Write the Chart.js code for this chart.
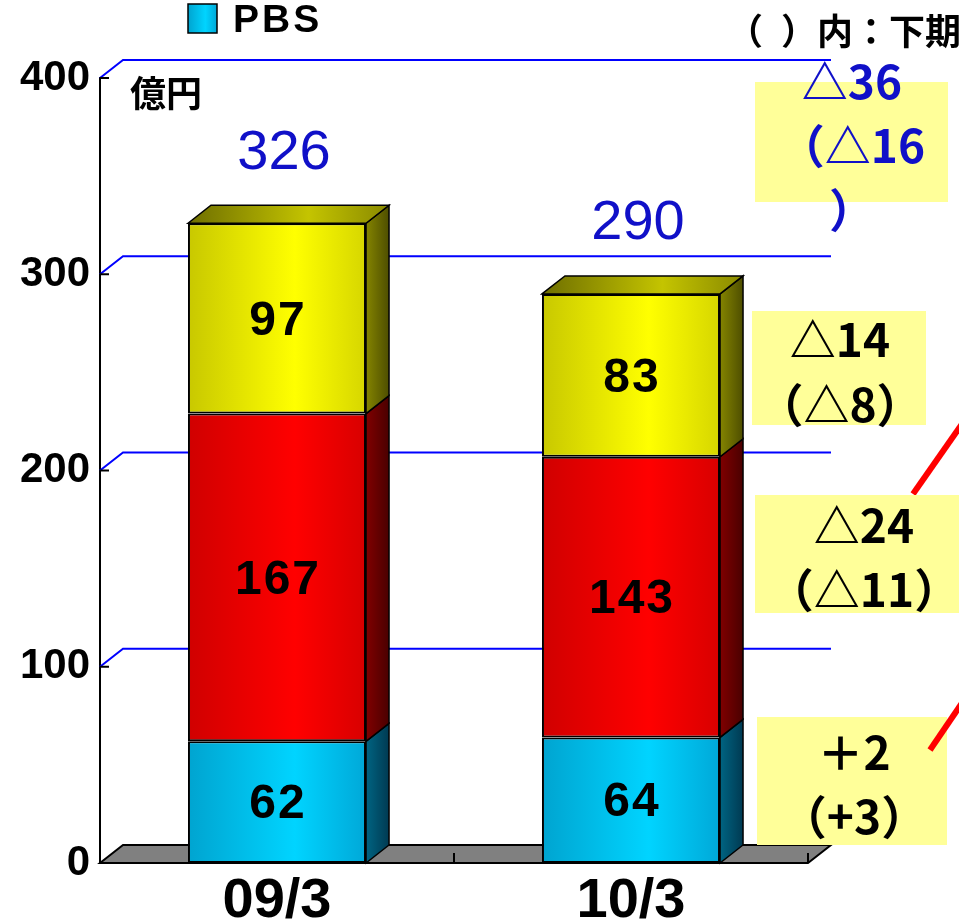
<!DOCTYPE html>
<html>
<head>
<meta charset="utf-8">
<script src="https://cdn.jsdelivr.net/npm/chart.js@4.4.1/dist/chart.umd.min.js"></script>
<style>
  html, body { margin: 0; padding: 0; background: #fff; }
  #wrap { width: 959px; height: 923px; }
</style>
</head>
<body>
<div id="wrap"><canvas id="pbs_chart" width="959" height="923"></canvas></div>
<script>
// values
const categories = ['09/3', '10/3'];
const pbsValues = [62, 64];
const midValues = [167, 143];
const topValues = [97, 83];
const yTicks = [0, 100, 200, 300, 400];

const legendText = 'PBS';
const unitText = '億円';
const noteHeader = ['（', '）内：下期'];
const noteLines = [
  ['△36', '（△16', '）'],
  ['△14', '（△8）'],
  ['△24', '（△11）'],
  ['＋2', '（+3）']
];

// look
const DX = 23, DY = 18;
const barPct = 0.503;
const BLUE = '#1010c8';
const faces = [
  { front: ['#00a4d0', '#00d4ff', '#00a8d8'], side: ['#006482', '#003a52'] },
  { front: ['#d00000', '#ff0000', '#d80000'], side: ['#800000', '#4a0000'] },
  { front: ['#c8c800', '#ffff00', '#d6d600'], side: ['#848400', '#4e4e00'], top: ['#6e6e00', '#c4c400', '#8a8a00'] }
];
// note boxes: x, y, w, h, text centre x, line centres y
const noteBoxes = [
  { x: 755, y: 82, w: 193, h: 120, cx: 852, ys: [82, 146, 210], color: BLUE },
  { x: 752, y: 311, w: 174, h: 114, cx: 840, ys: [340, 405], color: '#000' },
  { x: 755, y: 495, w: 204, h: 118, cx: 864, ys: [526, 590], color: '#000' },
  { x: 757, y: 717, w: 190, h: 128, cx: 854, ys: [753, 817], color: '#000' }
];

function hGrad(ctx, x0, x1, stops) {
  const g = ctx.createLinearGradient(x0, 0, x1, 0);
  stops.forEach((c, i) => g.addColorStop(stops.length === 3 ? [0, 0.6, 1][i] : i, c));
  return g;
}

function frontFill(c, si) {
  const ch = c.chart, xs = ch.scales.x;
  if (c.type !== 'data' || !ch.chartArea || !xs) return faces[si].front[1];
  const cx = xs.getPixelForValue(c.dataIndex);
  const w = (xs.width / categories.length) * barPct;
  return hGrad(ch.ctx, cx - w / 2, cx + w / 2, faces[si].front);
}

const box3d = {
  id: 'box3d',
  beforeDatasetsDraw(chart) {
    const { ctx, chartArea: a, scales: { x: xs, y } } = chart;
    const y0 = y.getPixelForValue(0);
    ctx.save();
    // floor
    ctx.beginPath();
    ctx.moveTo(a.left, y0);
    ctx.lineTo(a.left + DX, y0 - DY);
    ctx.lineTo(a.right + DX, y0 - DY);
    ctx.lineTo(a.right, y0);
    ctx.closePath();
    ctx.fillStyle = '#808080';
    ctx.fill();
    ctx.lineWidth = 2;
    ctx.strokeStyle = '#000';
    ctx.stroke();
    // category ticks on the floor
    for (let i = 1; i <= categories.length; i++) {
      const bx = i < categories.length
        ? (xs.getPixelForValue(i - 1) + xs.getPixelForValue(i)) / 2 : a.right;
      ctx.beginPath();
      ctx.moveTo(bx, y0);
      ctx.lineTo(bx, y0 - 10);
      ctx.stroke();
    }
    // back grid lines
    ctx.strokeStyle = '#0000ff';
    ctx.lineWidth = 2;
    yTicks.forEach(v => {
      if (v === 0) return;
      const py = y.getPixelForValue(v);
      ctx.beginPath();
      ctx.moveTo(a.left, py);
      ctx.lineTo(a.left + DX, py - DY);
      ctx.lineTo(a.right + DX, py - DY);
      ctx.stroke();
    });
    // small ticks on the front axis
    ctx.strokeStyle = '#000';
    yTicks.forEach(v => {
      const py = y.getPixelForValue(v);
      ctx.beginPath();
      ctx.moveTo(a.left, py);
      ctx.lineTo(a.left + 9, py);
      ctx.stroke();
    });
    ctx.restore();
  },
  afterDatasetsDraw(chart) {
    const { ctx } = chart;
    const last = chart.data.datasets.length - 1;
    ctx.save();
    ctx.lineWidth = 1.5;
    ctx.strokeStyle = '#000';
    chart.data.datasets.forEach((ds, si) => {
      chart.getDatasetMeta(si).data.forEach(el => {
        const { x, y: top, base, width } = el.getProps(['x', 'y', 'base', 'width'], true);
        const l = x - width / 2, r = x + width / 2;
        // side
        ctx.beginPath();
        ctx.moveTo(r, top);
        ctx.lineTo(r + DX, top - DY);
        ctx.lineTo(r + DX, base - DY);
        ctx.lineTo(r, base);
        ctx.closePath();
        ctx.fillStyle = hGrad(ctx, r, r + DX, faces[si].side);
        ctx.fill();
        ctx.stroke();
        // lid
        if (si === last) {
          ctx.beginPath();
          ctx.moveTo(l, top);
          ctx.lineTo(l + DX, top - DY);
          ctx.lineTo(r + DX, top - DY);
          ctx.lineTo(r, top);
          ctx.closePath();
          ctx.fillStyle = hGrad(ctx, l, r + DX, faces[si].top);
          ctx.fill();
          ctx.stroke();
        }
      });
    });
    // segment values
    ctx.fillStyle = '#000';
    ctx.font = 'bold 48px "Liberation Sans", Arial, sans-serif';
    ctx.textAlign = 'center';
    ctx.textBaseline = 'middle';
    ctx.letterSpacing = '2px';
    chart.data.datasets.forEach((ds, si) => {
      chart.getDatasetMeta(si).data.forEach((el, i) => {
        const { x, y: top, base } = el.getProps(['x', 'y', 'base'], true);
        ctx.fillText(String(ds.data[i]), x + 1, (top + base) / 2 + 3);
      });
    });
    ctx.letterSpacing = '0px';
    // totals
    ctx.fillStyle = BLUE;
    ctx.font = '56px "Liberation Sans", Arial, sans-serif';
    chart.getDatasetMeta(last).data.forEach((el, i) => {
      const total = chart.data.datasets.reduce((s, ds) => s + ds.data[i], 0);
      const { x, y: top } = el.getProps(['x', 'y'], true);
      ctx.fillText(String(total), x + 7, top - 70);
    });
    ctx.restore();
  },
  afterDraw(chart) {
    const { ctx } = chart;
    ctx.save();
    // legend
    ctx.fillStyle = hGrad(ctx, 188, 217, faces[0].front);
    ctx.fillRect(188, 4, 29, 29);
    ctx.lineWidth = 1.5;
    ctx.strokeStyle = '#000';
    ctx.strokeRect(188, 4, 29, 29);
    ctx.fillStyle = '#000';
    ctx.font = 'bold 39px "Liberation Sans", Arial, sans-serif';
    ctx.textAlign = 'left';
    ctx.textBaseline = 'middle';
    ctx.letterSpacing = '3px';
    ctx.fillText(legendText, 233, 21);
    ctx.letterSpacing = '0px';
    // unit
    ctx.font = 'bold 36px "Noto Sans CJK JP", sans-serif';
    ctx.fillText(unitText, 130, 93);
    // header at top right
    ctx.fillText(noteHeader[0], 727, 31);
    ctx.fillText(noteHeader[1], 781, 31);
    // pointer lines
    ctx.strokeStyle = '#ff0000';
    ctx.lineWidth = 6;
    ctx.beginPath();
    ctx.moveTo(913, 494);
    ctx.lineTo(962, 424);
    ctx.stroke();
    // note boxes
    ctx.textAlign = 'center';
    ctx.font = 'bold 46px "Noto Sans CJK JP", sans-serif';
    noteBoxes.forEach((b, k) => {
      ctx.fillStyle = '#ffff99';
      ctx.fillRect(b.x, b.y, b.w, b.h);
      ctx.fillStyle = b.color;
      noteLines[k].forEach((t, j) => ctx.fillText(t, b.cx, b.ys[j]));
    });
    ctx.strokeStyle = '#ff0000';
    ctx.beginPath();
    ctx.moveTo(930, 750);
    ctx.lineTo(962, 703);
    ctx.stroke();
    ctx.restore();
  }
};

new Chart(document.getElementById('pbs_chart'), {
  type: 'bar',
  data: {
    labels: categories,
    datasets: [
      { label: 'PBS', data: pbsValues, backgroundColor: c => frontFill(c, 0) },
      { label: 'Series 2', data: midValues, backgroundColor: c => frontFill(c, 1) },
      { label: 'Series 3', data: topValues, backgroundColor: c => frontFill(c, 2) }
    ]
  },
  options: {
    responsive: false,
    animation: false,
    devicePixelRatio: 1,
    layout: { padding: { top: 78, right: 151, bottom: 0, left: 0 } },
    datasets: {
      bar: { categoryPercentage: 1, barPercentage: barPct, borderColor: '#000', borderWidth: 2, borderSkipped: false }
    },
    plugins: { legend: { display: false }, tooltip: { enabled: false } },
    scales: {
      x: {
        stacked: true,
        afterFit: s => { s.height = 60; },
        grid: { display: false, drawTicks: false },
        border: { display: false },
        ticks: {
          color: '#000',
          padding: 11,
          font: { family: '"Liberation Sans Narrow", "Liberation Sans", sans-serif', size: 56, weight: 'bold', lineHeight: 1 }
        }
      },
      y: {
        stacked: true,
        min: 0,
        max: 400,
        afterBuildTicks: s => { s.ticks = yTicks.map(v => ({ value: v })); },
        afterFit: s => { s.width = 100; },
        grid: { display: false, drawTicks: false },
        border: { display: true, color: '#000', width: 2 },
        ticks: {
          color: '#000',
          padding: 10,
          font: { family: '"Liberation Sans", Arial, sans-serif', size: 42, weight: 'bold', lineHeight: 1 }
        }
      }
    }
  },
  plugins: [box3d]
});
</script>
</body>
</html>
